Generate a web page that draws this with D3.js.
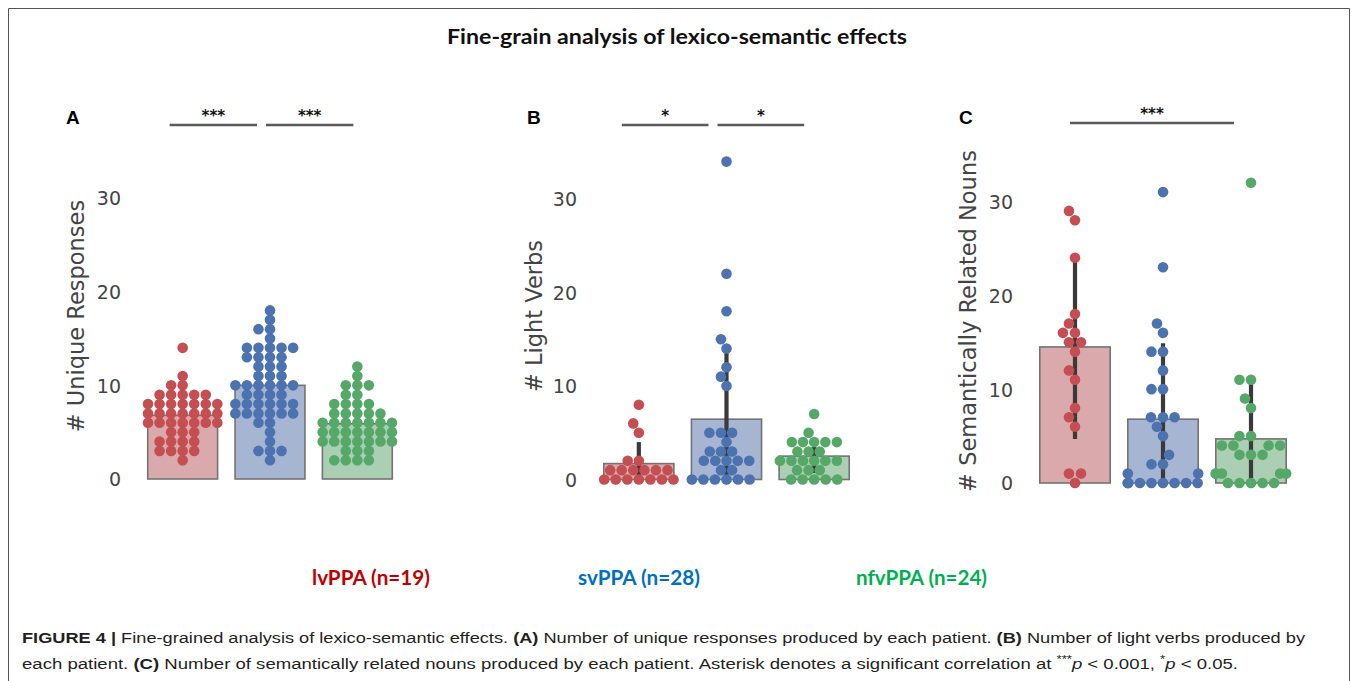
<!DOCTYPE html>
<html>
<head>
<meta charset="utf-8">
<script src="https://cdn.jsdelivr.net/npm/d3@7"></script>
<style>
  html, body { margin: 0; padding: 0; background: #fff; }
  svg { display: block; }
  .tick text { font-family: "DejaVu Sans", sans-serif; font-size: 19px; fill: #444; }
  .ylab { font-family: "DejaVu Sans", sans-serif; font-size: 22.5px; fill: #444; }
  .letter { font-family: "Liberation Sans", Arial, sans-serif; font-weight: bold; font-size: 19px; fill: #000; }
  .stars { font-family: "DejaVu Sans", sans-serif; font-weight: bold; font-size: 15px; fill: #111; }
  .title { font-family: Lato, "Open Sans", sans-serif; font-weight: bold; font-size: 20px; fill: #111; }
  .legend { font-family: Lato, "Open Sans", sans-serif; font-weight: bold; font-size: 20px; }
  .caption { font-family: "Liberation Sans Narrow", "Liberation Sans", Arial, sans-serif; font-size: 15.5px; fill: #231f20; }
</style>
</head>
<body>
<svg width="1357" height="681"></svg>
<script>
// groups
var groups = ["lvPPA", "svPPA", "nfvPPA"];
var dotColors = ["#C44E52", "#4C72B0", "#55A868"];
var barColors = ["#daa9ac", "#a6b5d2", "#abcfb3"];
var legendLabels = ["lvPPA (n=19)", "svPPA (n=28)", "nfvPPA (n=24)"];
var legendColors = ["#c00000", "#0070c0", "#00b050"];
var yTicks = [0, 10, 20, 30];

// A: unique responses
var uniqueLv = [14, 11, 10, 10, 9, 9, 9, 9, 9, 8, 8, 8, 8, 8, 8, 8, 7, 7, 7, 7, 7, 7, 7,
  6, 6, 6, 6, 6, 6, 6, 5, 5, 5, 4, 4, 4, 4, 3, 3, 3, 3, 2];
var uniqueSv = [18, 17, 16, 16, 15, 14, 14, 14, 14, 14, 13, 13, 13, 13, 12, 12, 12, 11, 11, 11,
  10, 10, 10, 10, 10, 10, 9, 9, 9, 9, 8, 8, 8, 8, 8, 8, 7, 7, 7, 7, 7, 7, 6, 6, 5, 4, 3, 3, 3, 2];
var uniqueNfv = [12, 11, 10, 10, 10, 9, 9, 8, 8, 8, 8, 7, 7, 7, 7, 7, 6, 6, 6, 6, 6, 6, 6,
  5, 5, 5, 5, 5, 5, 5, 4, 4, 4, 4, 4, 4, 4, 3, 3, 3, 2, 2, 2, 2];
var uniqueMeans = [6.8, 10.0, 5.9];
var uniqueSd = [3.0, 4.0, 2.7];
var uniqueSig = [{from: 0, to: 1, stars: "***"}, {from: 1, to: 2, stars: "***"}];

// B: light verbs
var lightLv = [8, 6, 5, 2, 2, 1, 1, 1, 1, 1, 1, 0, 0, 0, 0, 0, 0, 0];
var lightSv = [34, 22, 18, 15, 14, 12, 11, 10, 5, 5, 5, 4, 3, 3, 3, 2, 2, 2, 2, 2, 1, 1, 0, 0, 0, 0, 0, 0];
var lightNfv = [7, 5, 4, 4, 4, 4, 4, 3, 3, 3, 2, 2, 2, 2, 2, 2, 1, 1, 1, 0, 0, 0, 0, 0];
var lightMeans = [1.7, 6.45, 2.5];
var lightSd = [2.3, 7.6, 1.8];
var lightSig = [{from: 0, to: 1, stars: "*"}, {from: 1, to: 2, stars: "*"}];

// C: semantically related nouns
var nounsLv = [29, 28, 24, 18, 17, 16, 16, 15, 15, 14, 12, 11, 8, 7, 6, 1, 1, 0];
var nounsSv = [31, 23, 17, 16, 14, 14, 12, 10, 10, 7, 7, 7, 6, 5, 3, 2, 2, 1, 1, 0, 0, 0, 0, 0, 0, 0, 0, 0];
var nounsNfv = [32, 11, 11, 9, 8, 5, 5, 4, 4, 4, 4, 3, 3, 3, 1, 1, 1, 1, 1, 0, 0, 0, 0, 0];
var nounsMeans = [14.5, 6.8, 4.7];
var nounsSd = [9.8, 8.1, 6.0];
var nounsSig = [{from: 0, to: 2, stars: "***"}];

var svg = d3.select("svg");

// frame
svg.append("path")
  .attr("d", "M8.5,690V8.5H1349.5V690")
  .attr("fill", "none").attr("stroke", "#555").attr("stroke-width", 1);

svg.append("text").attr("class", "title")
  .attr("x", 677).attr("y", 44).attr("text-anchor", "middle")
  .attr("textLength", 460).attr("lengthAdjust", "spacingAndGlyphs")
  .text("Fine-grain analysis of lexico-semantic effects");

var panels = [
  {letter: "A", ylab: "# Unique Responses", data: [uniqueLv, uniqueSv, uniqueNfv],
   means: uniqueMeans, sd: uniqueSd, sig: uniqueSig,
   x0: 139, x1: 401, y0: 479, y30: 198, tickX: 121, labX: 84, labY: 316, letX: 66,
   rowK: 1.2, sigY: 125, sigOff: [[-13, -13], [-4, -4]]},
  {letter: "B", ylab: "# Light Verbs", data: [lightLv, lightSv, lightNfv],
   means: lightMeans, sd: lightSd, sig: lightSig,
   x0: 595, x1: 858, y0: 479.5, y30: 199, tickX: 577, labX: 542, labY: 316, letX: 527,
   rowK: 1.03, sigY: 125, sigOff: [[-17, -18], [-9, -10]]},
  {letter: "C", ylab: "# Semantically Related Nouns", data: [nounsLv, nounsSv, nounsNfv],
   means: nounsMeans, sd: nounsSd, sig: nounsSig,
   x0: 1031, x1: 1295, y0: 483, y30: 201.5, tickX: 1013, labX: 976, labY: 321, letX: 959,
   rowK: 1.0, sigY: 123, sigOff: [[-5, -17]]}
];

// seaborn-like beeswarm: place each point at the most central free spot
function swarm(vals, y, d, k, half) {
  var pts = vals.map(function(v) { return {v: v, y: y(v), off: 0}; })
    .sort(function(a, b) { return a.v - b.v; });
  var placed = [];
  pts.forEach(function(p) {
    var nb = placed.filter(function(q) { return Math.abs(p.y - q.y) * k < d; });
    var cands = [0], left = true;
    nb.forEach(function(q) {
      var dy = (p.y - q.y) * k,
          dx = Math.sqrt(Math.max(d * d - dy * dy, 0)) * 1.05;
      if (left) cands.push(q.off - dx, q.off + dx);
      else cands.push(q.off + dx, q.off - dx);
      left = !left;
    });
    cands = cands.map(function(c, i) { return {c: c, i: i}; })
      .sort(function(a, b) { return (Math.abs(a.c) - Math.abs(b.c)) || (a.i - b.i); });
    var pick = cands[cands.length - 1].c;
    for (var j = 0; j < cands.length; j++) {
      var c = cands[j].c;
      var ok = nb.every(function(q) {
        var dx = c - q.off, dy = (p.y - q.y) * k;
        return dx * dx + dy * dy >= d * d * 0.999;
      });
      if (ok) { pick = c; break; }
    }
    p.off = Math.max(-half, Math.min(half, pick));
    placed.push(p);
  });
  return pts;
}

panels.forEach(function(P) {
  var x = d3.scaleBand().domain(groups).range([P.x0, P.x1]).paddingInner(0.2).paddingOuter(0.1);
  var y = d3.scaleLinear().domain([0, 30]).range([P.y0, P.y30]);
  var g = svg.append("g");

  var ax = g.append("g").attr("transform", "translate(" + P.tickX + ",0)")
    .call(d3.axisLeft(y).tickValues(yTicks).tickSize(0).tickPadding(0));
  ax.select(".domain").remove();
  ax.selectAll(".tick text").attr("dy", "0.36em");

  g.append("text").attr("class", "ylab")
    .attr("transform", "translate(" + P.labX + "," + P.labY + ") rotate(-90)")
    .attr("text-anchor", "middle").text(P.ylab);

  g.append("text").attr("class", "letter").attr("x", P.letX).attr("y", 124).text(P.letter);

  // bars
  g.selectAll("rect.bar").data(groups).enter().append("rect")
    .attr("x", function(d) { return x(d); })
    .attr("width", x.bandwidth())
    .attr("y", function(d, i) { return y(P.means[i]); })
    .attr("height", function(d, i) { return y(0) - y(P.means[i]); })
    .attr("fill", function(d, i) { return barColors[i]; })
    .attr("stroke", "#737373").attr("stroke-width", 1.6);

  // sd error bars
  g.selectAll("line.err").data(groups).enter().append("line")
    .attr("x1", function(d) { return x(d) + x.bandwidth() / 2; })
    .attr("x2", function(d) { return x(d) + x.bandwidth() / 2; })
    .attr("y1", function(d, i) { return y(Math.max(0, P.means[i] - P.sd[i])); })
    .attr("y2", function(d, i) { return y(P.means[i] + P.sd[i]); })
    .attr("stroke", "#3a3a3a").attr("stroke-width", 4.2);

  // swarm points
  P.data.forEach(function(vals, i) {
    var cx = x(groups[i]) + x.bandwidth() / 2;
    var pts = swarm(vals, y, 11, P.rowK, x.bandwidth() / 2);
    g.selectAll(null).data(pts).enter().append("circle")
      .attr("cx", function(d) { return cx + d.off; })
      .attr("cy", function(d) { return d.y; })
      .attr("r", 5.3)
      .attr("fill", dotColors[i]);
  });

  // significance brackets
  P.sig.forEach(function(s, i) {
    var xa = x(groups[s.from]) + x.bandwidth() / 2 + P.sigOff[i][0],
        xb = x(groups[s.to]) + x.bandwidth() / 2 + P.sigOff[i][1];
    g.append("line").attr("x1", xa).attr("x2", xb).attr("y1", P.sigY).attr("y2", P.sigY)
      .attr("stroke", "#5a5a5a").attr("stroke-width", 2.4);
    g.append("text").attr("class", "stars").attr("x", (xa + xb) / 2).attr("y", P.sigY - 4)
      .attr("text-anchor", "middle").text(s.stars);
  });
});

// legend
var legX = [312, 578, 856], legW = [118, 122, 131];
svg.selectAll("text.legend").data(legendLabels).enter().append("text")
  .attr("class", "legend")
  .attr("x", function(d, i) { return legX[i]; })
  .attr("y", 585)
  .attr("textLength", function(d, i) { return legW[i]; })
  .attr("lengthAdjust", "spacingAndGlyphs")
  .attr("fill", function(d, i) { return legendColors[i]; })
  .text(function(d) { return d; });

// caption
var cap1 = [
  {t: "FIGURE 4 |", b: true},
  {t: " Fine-grained analysis of lexico-semantic effects. "},
  {t: "(A)", b: true},
  {t: " Number of unique responses produced by each patient. "},
  {t: "(B)", b: true},
  {t: " Number of light verbs produced by"}
];
var cap2 = [
  {t: "each patient. "},
  {t: "(C)", b: true},
  {t: " Number of semantically related nouns produced by each patient. Asterisk denotes a significant correlation at "},
  {t: "***", sup: true},
  {t: "p", it: true},
  {t: " < 0.001, "},
  {t: "*", sup: true},
  {t: "p", it: true},
  {t: " < 0.05."}
];
function caption(parts, yy, len) {
  var t = svg.append("text").attr("class", "caption").attr("x", 22).attr("y", yy)
    .attr("textLength", len).attr("lengthAdjust", "spacingAndGlyphs");
  parts.forEach(function(p) {
    var s = t.append("tspan").text(p.t);
    if (p.b) s.attr("font-weight", "bold");
    if (p.it) s.attr("font-style", "italic");
    if (p.sup) s.attr("font-size", "11px").attr("baseline-shift", "super");
  });
}
caption(cap1, 643, 1283);
caption(cap2, 669, 1216);
</script>
</body>
</html>
